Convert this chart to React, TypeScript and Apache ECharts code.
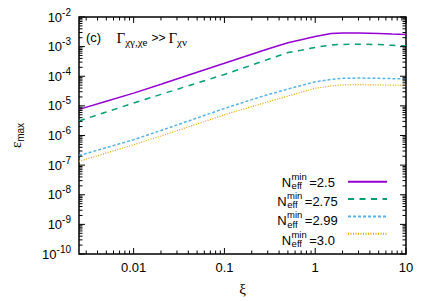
import React, { useEffect, useRef } from 'react';
import * as echarts from 'echarts';

// ---- data ----
const xi = [0.0025, 0.005, 0.01, 0.02, 0.05, 0.1, 0.2, 0.3, 0.5, 0.7, 1, 1.5, 2, 3, 5, 7, 10];
const eps25 = [7.6e-6, 1.44e-5, 2.7e-5, 5.4e-5, 1.36e-4, 2.73e-4, 5.5e-4, 8.3e-4, 1.36e-3, 1.71e-3, 2.19e-3, 2.77e-3, 2.88e-3, 2.9e-3, 2.78e-3, 2.65e-3, 2.55e-3];
const eps275 = [3.1e-6, 6.2e-6, 1.25e-5, 2.44e-5, 5.9e-5, 1.15e-4, 2.38e-4, 3.7e-4, 6.3e-4, 7.6e-4, 9.4e-4, 1.14e-3, 1.19e-3, 1.21e-3, 1.17e-3, 1.11e-3, 1.04e-3];
const eps299 = [2.1e-7, 3.9e-7, 7.2e-7, 1.48e-6, 3.9e-6, 8.2e-6, 1.63e-5, 2.38e-5, 3.7e-5, 4.9e-5, 6.5e-5, 7.8e-5, 8.5e-5, 8.7e-5, 8.5e-5, 8.3e-5, 8.1e-5];
const eps30 = [1.34e-7, 2.55e-7, 4.9e-7, 9.6e-7, 2.45e-6, 5.0e-6, 9.5e-6, 1.36e-5, 2.14e-5, 2.88e-5, 3.95e-5, 4.7e-5, 5.1e-5, 5.2e-5, 5.1e-5, 5.0e-5, 4.9e-5];

const seriesNames = ['2.5', '2.75', '2.99', '3.0'];

const X_MIN = 0.0025;
const X_MAX = 10;
const Y_MIN = 1e-10;
const Y_MAX = 1e-2;

const xMajorTicks = [0.01, 0.1, 1, 10];
const xMinorTicks = [
  0.003, 0.004, 0.005, 0.006, 0.007, 0.008, 0.009,
  0.02, 0.03, 0.04, 0.05, 0.06, 0.07, 0.08, 0.09,
  0.2, 0.3, 0.4, 0.5, 0.6, 0.7, 0.8, 0.9,
  2, 3, 4, 5, 6, 7, 8, 9,
];
const yExponents = [-10, -9, -8, -7, -6, -5, -4, -3, -2];
const yMinorMantissas = [2, 3, 4, 5, 6, 7, 8, 9];

const SANS = 'Liberation Sans, Arial, sans-serif';
const SERIF = 'Liberation Serif, Times New Roman, serif';

const MAJOR_LEN = 6;
const MINOR_LEN = 3.5;

function tickSeries(name: string, data: number[][], dir: 'x' | 'y') {
  return {
    type: 'custom',
    name,
    silent: true,
    clip: false,
    z: 10,
    encode: { x: 0, y: 1 },
    data,
    renderItem: (_params: any, api: any) => {
      const v = dir === 'x' ? api.value(0) : api.value(1);
      const len = api.value(2);
      const style = { stroke: '#000', lineWidth: 1 };
      if (dir === 'x') {
        const b = api.coord([v, Y_MIN]);
        const t = api.coord([v, Y_MAX]);
        return {
          type: 'group',
          children: [
            { type: 'line', shape: { x1: b[0], y1: b[1], x2: b[0], y2: b[1] - len }, style },
            { type: 'line', shape: { x1: t[0], y1: t[1], x2: t[0], y2: t[1] + len }, style },
          ],
        };
      }
      const l = api.coord([X_MIN, v]);
      const r = api.coord([X_MAX, v]);
      return {
        type: 'group',
        children: [
          { type: 'line', shape: { x1: l[0], y1: l[1], x2: l[0] + len, y2: l[1] }, style },
          { type: 'line', shape: { x1: r[0], y1: r[1], x2: r[0] - len, y2: r[1] }, style },
        ],
      };
    },
  };
}

function lineSeries(name: string, values: number[], color: string, width: number, dash: any) {
  return {
    name,
    type: 'line',
    data: xi.map((x, i) => [x, values[i]]),
    symbol: 'none',
    showSymbol: false,
    silent: true,
    z: 3,
    lineStyle: { color, width, type: dash },
    itemStyle: { color },
  };
}

function legendLabel(cy: number, x0: number, value: string) {
  return [
    { type: 'text', x: x0, y: cy + 0.5, style: { text: 'N', font: `13px ${SANS}`, lineHeight: 12, fill: '#000', align: 'left', verticalAlign: 'middle' } },
    { type: 'text', x: x0 + 9.7, y: cy - 5.6, style: { text: 'min', font: `9.5px ${SANS}`, lineHeight: 8, fill: '#000', align: 'left', verticalAlign: 'middle' } },
    { type: 'text', x: x0 + 9.9, y: cy + 3.9, style: { text: 'eff', font: `9.5px ${SANS}`, lineHeight: 8, fill: '#000', align: 'left', verticalAlign: 'middle' } },
    { type: 'text', x: x0 + 27.5, y: cy + 0.5, style: { text: '=' + value, font: `13px ${SANS}`, lineHeight: 12, fill: '#000', align: 'left', verticalAlign: 'middle' } },
  ];
}

function buildOption() {
  const xTickData: number[][] = [
    ...xMajorTicks.map((v) => [v, Y_MIN, MAJOR_LEN]),
    ...xMinorTicks.map((v) => [v, Y_MIN, MINOR_LEN]),
  ];
  const yTickData: number[][] = [];
  yExponents.forEach((e) => {
    yTickData.push([X_MIN, Math.pow(10, e), MAJOR_LEN]);
    if (e < -2) yMinorMantissas.forEach((m) => yTickData.push([X_MIN, m * Math.pow(10, e), MINOR_LEN]));
  });

  return {
    animation: false,
    backgroundColor: '#fff',
    grid: { left: 68, right: 25, top: 17, bottom: 45, show: true, borderColor: '#000', borderWidth: 1.5, backgroundColor: 'transparent', containLabel: false },
    legend: {
      data: seriesNames,
      orient: 'vertical',
      align: 'right',
      right: 43,
      top: 172,
      padding: 0,
      itemWidth: 39,
      itemHeight: 19.3,
      itemGap: 0,
      selectedMode: false,
      formatter: () => '',
      textStyle: { fontSize: 10 },
      itemStyle: { opacity: 0 },
    },
    xAxis: {
      type: 'log',
      logBase: 10,
      min: X_MIN,
      max: X_MAX,
      axisLine: { show: false },
      axisTick: { show: false },
      splitLine: { show: false },
      axisLabel: {
        margin: 7,
        color: '#000',
        fontSize: 13,
        fontFamily: SANS,
        formatter: (v: number) => {
          const l = Math.log10(v);
          if (Math.abs(l - Math.round(l)) > 1e-6) return '';
          return v >= 1 ? String(Math.round(v)) : String(v);
        },
      },
      name: 'ξ',
      nameLocation: 'middle',
      nameGap: 27,
      nameTextStyle: { color: '#000', fontSize: 15, fontFamily: SERIF },
    },
    yAxis: {
      type: 'log',
      logBase: 10,
      min: Y_MIN,
      max: Y_MAX,
      axisLine: { show: false },
      axisTick: { show: false },
      splitLine: { show: false },
      axisLabel: {
        margin: 8,
        color: '#000',
        formatter: (v: number) => '{b|10}{s|' + Math.round(Math.log10(v)) + '}',
        rich: {
          b: { fontSize: 13, fontFamily: SANS, color: '#000' },
          s: { fontSize: 10, fontFamily: SANS, color: '#000', padding: [0, 0, 10, 0] },
        },
      },
      name: '{e|ε}{s|max}',
      nameLocation: 'middle',
      nameRotate: 90,
      nameGap: 54,
      nameTextStyle: {
        rich: {
          e: { fontSize: 15, fontFamily: SERIF, color: '#000' },
          s: { fontSize: 10, fontFamily: SANS, color: '#000', padding: [9, 0, 0, 0] },
        },
      },
    },
    graphic: [
      { type: 'text', x: 86, y: 37, style: { text: '(c)', font: `13px ${SANS}`, fill: '#000', verticalAlign: 'middle' } },
      {
        type: 'text',
        x: 116.5,
        y: 37.5,
        style: {
          text: '{g|Γ}{s|χγ,χe}{t|>>}{g|Γ}{s|χν}',
          verticalAlign: 'middle',
          rich: {
            g: { fontSize: 15, fontFamily: SERIF, fill: '#000' },
            s: { fontSize: 11, fontFamily: SERIF, fill: '#000', padding: [9, 0, 0, 0] },
            t: { fontSize: 12, fontFamily: SANS, fill: '#000', padding: [0, 3, 0, 4] },
          },
        },
      },
      ...legendLabel(181.7, 281.7, '2.5'),
      ...legendLabel(201, 277.3, '2.75'),
      ...legendLabel(220.3, 277.3, '2.99'),
      ...legendLabel(239.6, 281.7, '3.0'),
    ],
    series: [
      lineSeries('2.5', eps25, '#9400D3', 1.5, 'solid'),
      lineSeries('2.75', eps275, '#009E73', 1.5, [6, 5.5]),
      lineSeries('2.99', eps299, '#56B4E9', 1.5, [3, 2]),
      lineSeries('3.0', eps30, '#E69F00', 1.2, [1, 1.5]),
      tickSeries('xticks', xTickData, 'x'),
      tickSeries('yticks', yTickData, 'y'),
    ],
  };
}

export default function App() {
  const ref = useRef<HTMLDivElement>(null);
  useEffect(() => {
    document.body.style.margin = '0';
    const chart = echarts.init(ref.current as HTMLDivElement, null, { renderer: 'svg' });
    chart.setOption(buildOption() as any);
    return () => chart.dispose();
  }, []);
  return (
    <div
      ref={ref}
      style={{ position: 'fixed', left: 0, top: 0, width: 431, height: 301, background: '#fff' }}
    />
  );
}
